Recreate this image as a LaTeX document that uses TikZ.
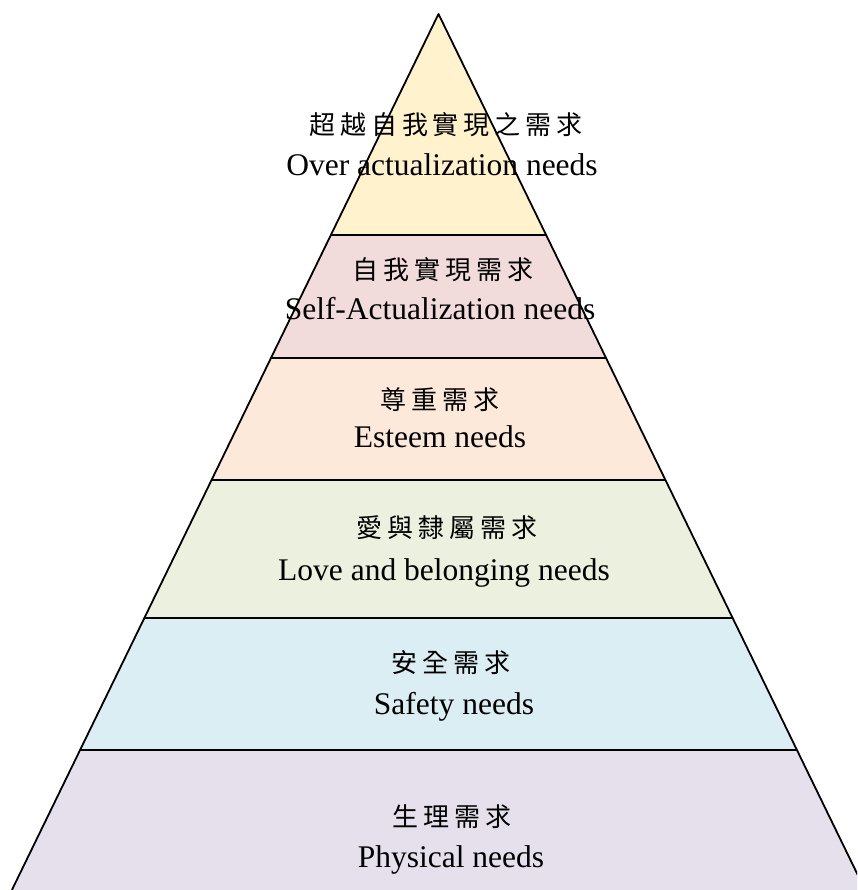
\documentclass[tikz,border=0pt]{standalone}
\usepackage{fontspec}
\setmainfont{Liberation Serif}
\newfontfamily\cjk[LetterSpace=19]{Noto Sans CJK TC}
\definecolor{cA}{HTML}{FFF2CC}
\definecolor{cB}{HTML}{F2DCDB}
\definecolor{cC}{HTML}{FDE9D9}
\definecolor{cD}{HTML}{EBF1DE}
\definecolor{cE}{HTML}{DBEEF3}
\definecolor{cF}{HTML}{E5E0EC}
\tikzset{
  edge/.style={line width=1.8pt, black, line join=round},
  zh/.style={font=\cjk\fontsize{26}{26}\selectfont, inner sep=0pt},
  en/.style={font=\fontsize{31.5}{31.5}\selectfont, inner sep=0pt, anchor=base},
}
\begin{document}
\begin{tikzpicture}[x=1pt,y=-1pt]
\useasboundingbox (0,0) rectangle (857,890);
\clip (0,0) rectangle (857,890);
% layers
\fill[cA] (438.5,14) -- (546.1,235) -- (330.9,235) -- cycle;
\fill[cB] (330.9,235) -- (546.1,235) -- (606,358) -- (271,358) -- cycle;
\fill[cC] (271,358) -- (606,358) -- (665.4,480) -- (211.6,480) -- cycle;
\fill[cD] (211.6,480) -- (665.4,480) -- (732.6,618) -- (144.4,618) -- cycle;
\fill[cE] (144.4,618) -- (732.6,618) -- (796.9,750) -- (80.1,750) -- cycle;
\fill[cF] (80.1,750) -- (796.9,750) -- (865.1,890) -- (11.9,890) -- cycle;
% separators
\draw[edge] (330.9,235) -- (546.1,235);
\draw[edge] (271,358) -- (606,358);
\draw[edge] (211.6,480) -- (665.4,480);
\draw[edge] (144.4,618) -- (732.6,618);
\draw[edge] (80.1,750) -- (796.9,750);
% outline
\draw[edge] (11.9,890) -- (438.5,14) -- (865.1,890);
% texts
\node[zh] (t1c) at (446,125) {超越自我實現之需求};
\node[en] (t1e) at (442,176) {Over actualization needs};
\node[zh] (t2c) at (443,270) {自我實現需求};
\node[en] (t2e) at (440,319) {Self-Actualization needs};
\node[zh] (t3c) at (440,400) {尊重需求};
\node[en] (t3e) at (440,447) {Esteem needs};
\node[zh] (t4c) at (447,528) {愛與隸屬需求};
\node[en] (t4e) at (444,580) {Love and belonging needs};
\node[zh] (t5c) at (451,663) {安全需求};
\node[en] (t5e) at (454,714) {Safety needs};
\node[zh] (t6c) at (452,817) {生理需求};
\node[en] (t6e) at (451,867) {Physical needs};
\end{tikzpicture}
\end{document}
